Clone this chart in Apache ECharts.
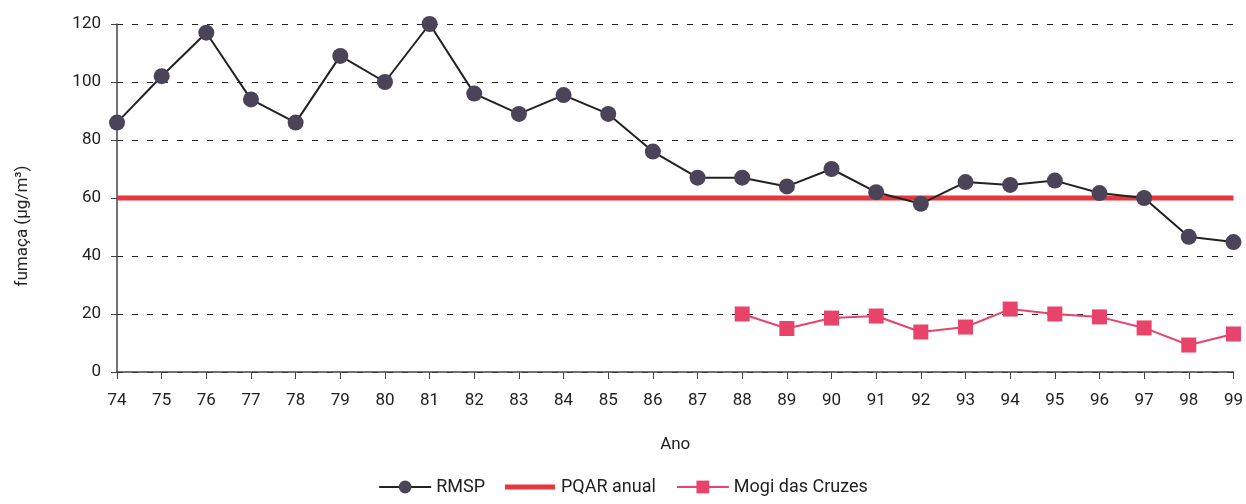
<!DOCTYPE html>
<html>
<head>
<meta charset="utf-8">
<script src="https://cdn.jsdelivr.net/npm/echarts@6/dist/echarts.min.js"></script>
<style>
  html, body { margin: 0; padding: 0; background: #fff; }
  #chart { width: 1246px; height: 504px; }
</style>
</head>
<body>
<div id="chart"></div>
<script>
// anos (eixo x)
var anos = ['74','75','76','77','78','79','80','81','82','83','84','85','86',
            '87','88','89','90','91','92','93','94','95','96','97','98','99'];
// RMSP - fumaça media anual
var rmsp = [86, 102, 117, 94, 86, 109, 100, 120, 96, 89, 95.5, 89, 76,
            67, 67, 64, 70, 62, 58, 65.5, 64.5, 66, 61.7, 60, 46.6, 44.8];
// Mogi das Cruzes (comeca em 88)
var mogi = [null, null, null, null, null, null, null, null, null, null, null, null, null,
            null, 20, 15, 18.6, 19.3, 13.8, 15.5, 21.7, 20, 19, 15.2, 9.3, 13.1];
// padrao anual PQAR
var pqar = anos.map(function () { return 60; });

var font = 'Roboto, "DejaVu Sans", sans-serif';
var chart = echarts.init(document.getElementById('chart'));

chart.setOption({
    animation: false,
    textStyle: { fontFamily: font },
    grid: {
        left: 117,
        right: 10,
        top: 24,
        bottom: 132
    },
    legend: {
        bottom: 3,
        left: 'center',
        itemWidth: 52,
        itemHeight: 16,
        itemGap: 20,
        textStyle: { fontSize: 18, color: '#222', fontFamily: font },
        data: [
            'RMSP',
            // linha grossa sem marcador
            { name: 'PQAR anual', icon: 'path://M0,5.5h50v5h-50z M0,0h0.01v16h-0.01z' },
            'Mogi das Cruzes'
        ]
    },
    xAxis: {
        type: 'category',
        data: anos,
        boundaryGap: false,
        name: 'Ano',
        nameLocation: 'middle',
        nameGap: 64,
        nameTextStyle: { fontSize: 17, color: '#222' },
        axisLine: { lineStyle: { color: '#444', width: 1.5 } },
        axisTick: { alignWithLabel: true, length: 7, lineStyle: { color: '#444' } },
        axisLabel: { fontSize: 17, color: '#222', margin: 20 }
    },
    yAxis: {
        type: 'value',
        min: 0,
        max: 120,
        interval: 20,
        name: 'fumaça (µg/m³)',
        nameLocation: 'middle',
        nameGap: 86,
        nameRotate: 90,
        nameTextStyle: { fontSize: 17, color: '#222', padding: [0, 0, 0, -56] },
        axisLine: { show: true, lineStyle: { color: '#444', width: 1.5 } },
        axisTick: { show: true, length: 6, lineStyle: { color: '#444' } },
        axisLabel: { fontSize: 17, color: '#222', margin: 16 },
        splitLine: { lineStyle: { color: '#222', type: [6, 9], width: 1 } }
    },
    series: [
        {
            name: 'PQAR anual',
            type: 'line',
            data: pqar,
            symbol: 'none',
            z: 1,
            lineStyle: { color: '#e8363d', width: 5 },
            itemStyle: { color: '#e8363d' }
        },
        {
            name: 'RMSP',
            type: 'line',
            data: rmsp,
            symbol: 'circle',
            symbolSize: 16,
            z: 3,
            lineStyle: { color: '#222', width: 2 },
            itemStyle: { color: '#4b4358' }
        },
        {
            name: 'Mogi das Cruzes',
            type: 'line',
            data: mogi,
            symbol: 'rect',
            symbolSize: 15,
            z: 3,
            lineStyle: { color: '#e8436a', width: 2 },
            itemStyle: { color: '#e8436a' }
        }
    ]
});
</script>
</body>
</html>
